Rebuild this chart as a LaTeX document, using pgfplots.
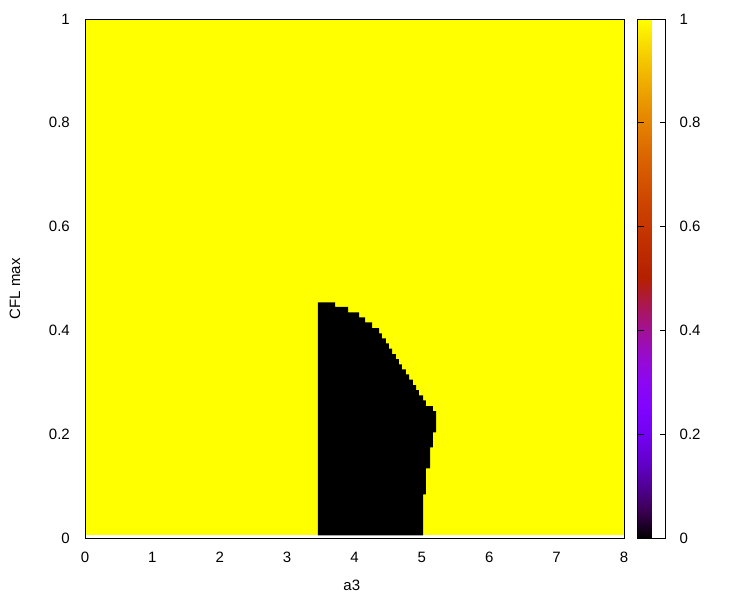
\documentclass[border=0pt]{standalone}
\usepackage{pgfplots}
\pgfplotsset{compat=1.18}
\usepackage{fontspec}
\setmainfont{Liberation Sans}
\definecolor{gpyellow}{RGB}{255,255,0}

\pgfplotsset{
  colormap={gp}{
    rgb=(0,0,0) rgb=(.2236,.0001,.3090) rgb=(.3162,.001,.5878)
    rgb=(.3873,.0034,.8090) rgb=(.4472,.008,.9511) rgb=(.5,.0156,1)
    rgb=(.5477,.027,.9511) rgb=(.5916,.0429,.8090) rgb=(.6325,.064,.5878)
    rgb=(.6708,.0911,.3090) rgb=(.7071,.125,0) rgb=(.7416,.1664,0)
    rgb=(.7746,.216,0) rgb=(.8062,.2746,0) rgb=(.8367,.343,0)
    rgb=(.8660,.4219,0) rgb=(.8944,.512,0) rgb=(.9220,.6141,0)
    rgb=(.9487,.729,0) rgb=(.9747,.8574,0) rgb=(1,1,0)},
}

\begin{document}
\begin{tikzpicture}
\path[use as bounding box] (-85pt,-62pt) rectangle (665pt,538pt);
\begin{axis}[
    at={(0,0)}, anchor=south west,
    scale only axis,
    width=539pt, height=519pt,
    xmin=0, xmax=8, ymin=0, ymax=1,
    xtick={0,1,...,8},
    ytick={0,0.2,0.4,0.6,0.8,1},
    major tick length=0pt,
    axis on top,
    axis line style={line width=0.9pt},
    /pgf/number format/assume math mode=true,
    tick label style={font=\fontsize{15}{18}\selectfont, inner sep=0pt},
    xticklabel style={anchor=north, yshift=-13.5pt},
    yticklabel style={anchor=east, xshift=-15pt},
    label style={font=\fontsize{15}{18}\selectfont},
    xlabel={a3},
    ylabel={CFL max},
    xlabel style={at={(axis description cs:0.495,-0.0906)}, anchor=center},
    ylabel style={at={(axis description cs:-0.1299,0.48)}, anchor=center},
    colormap name=gp,
    point meta min=0, point meta max=1,
    colorbar,
    colorbar style={
      at={(parent axis.north east)}, anchor=north west,
      xshift=5pt,
      scale only axis,
      width=28pt, height=519pt,
      ytick={0,0.2,0.4,0.6,0.8,1},
      ytick pos=both,
      yticklabel pos=right,
      tick align=inside,
      major tick length=6pt,
      tick style={black, line width=0.9pt},
      axis line style={line width=0.9pt},
      /pgf/number format/assume math mode=true,
      yticklabel style={font=\fontsize{15}{18}\selectfont, inner sep=0pt, anchor=west, xshift=14pt},
    },
  ]

% stable region (value 1)
\addplot[fill=gpyellow, draw=none] coordinates {
  (0,0.005) (8,0.005) (8,1) (0,1)};

% unstable region (value 0)
\addplot[fill=black, draw=none] coordinates {
  (3.458,0.005) (3.458,0.4542) (3.711,0.4542) (3.711,0.4451) (3.904,0.4451)
  (3.904,0.4349) (4.067,0.4349) (4.067,0.4253) (4.156,0.4253) (4.156,0.4156)
  (4.260,0.4156) (4.260,0.4046) (4.364,0.4046) (4.364,0.3944) (4.408,0.3944)
  (4.408,0.3848) (4.467,0.3848) (4.467,0.3751) (4.512,0.3751) (4.512,0.3649)
  (4.557,0.3649) (4.557,0.3545) (4.616,0.3545) (4.616,0.3448) (4.660,0.3448)
  (4.660,0.3346) (4.705,0.3346) (4.705,0.3250) (4.764,0.3250) (4.764,0.3153)
  (4.809,0.3153) (4.809,0.3051) (4.868,0.3051) (4.868,0.2947) (4.913,0.2947)
  (4.913,0.2850) (4.957,0.2850) (4.957,0.2748) (5.017,0.2748) (5.017,0.2652)
  (5.061,0.2652) (5.061,0.2542) (5.165,0.2542) (5.165,0.2445) (5.210,0.2445)
  (5.210,0.2035) (5.165,0.2035) (5.165,0.1745) (5.121,0.1745) (5.121,0.1340)
  (5.061,0.1340) (5.061,0.0839) (5.017,0.0839) (5.017,0.005)};

\end{axis}
\end{tikzpicture}
\end{document}
